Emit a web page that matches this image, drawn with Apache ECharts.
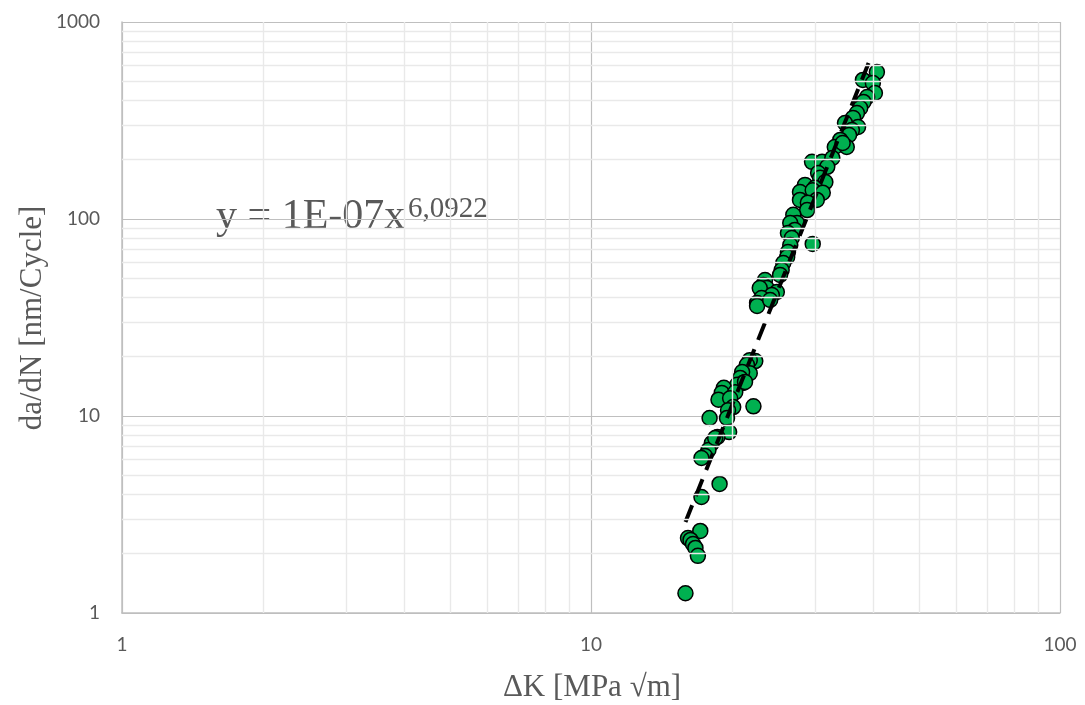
<!DOCTYPE html>
<html>
<head>
<meta charset="utf-8">
<script src="https://cdn.jsdelivr.net/npm/echarts@6/dist/echarts.min.js"></script>
<style>html,body{margin:0;padding:0;background:#fff;}#c{width:1085px;height:705px;}</style>
</head>
<body>
<div id="c"></div>
<script>
// ΔK [MPa √m]
const deltaK = [
  40.7, 38.0, 39.9, 40.3, 38.8, 38.1, 37.5, 36.9, 36.2, 34.8, 37.1, 36.0, 35.5, 34.0, 33.1, 35.1, 34.4,
  29.6, 31.1, 32.7, 31.9, 30.5, 30.8, 31.6, 28.6, 30.0, 27.9, 29.7, 31.2, 27.9, 30.3, 29.0, 28.9,
  27.0, 27.5, 26.6, 27.2, 26.3, 29.7, 26.8, 26.6, 26.3, 26.2, 25.7, 25.5, 25.3,
  23.5, 23.3, 23.7, 22.9, 24.9, 24.3, 23.1, 22.6, 22.6, 24.1,
  22.4, 21.8, 21.5, 21.8, 21.0, 20.8, 21.1, 20.5, 19.2, 19.0, 20.3, 18.7, 19.8, 20.1, 19.6, 22.2,
  17.9, 19.5, 19.7, 18.6, 18.1, 17.8, 17.5, 17.2, 18.4, 18.8, 17.2,
  17.1, 16.1, 16.3, 16.5, 16.7, 16.9, 15.9, 21.3
];
// da/dN [nm/Cycle]
const dadN = [
  557, 508, 490, 436, 416, 393, 366, 345, 326, 307, 293, 283, 267, 252, 232, 232, 243,
  195, 195, 204, 184, 171, 162, 154, 149, 144, 137, 140, 136, 125, 125, 121, 111,
  105, 95.4, 95.4, 88.0, 84.9, 74.7, 80.1, 73.8, 68.0, 64.1, 59.8, 55.1, 52.0,
  49.0, 46.2, 44.6, 44.6, 42.6, 41.1, 39.7, 37.5, 36.2, 38.8,
  19.0, 19.2, 18.2, 16.5, 16.7, 15.6, 14.7, 14.4, 13.9, 13.1, 13.2, 12.1, 12.3, 11.1, 10.7, 11.2,
  9.77, 9.77, 8.29, 7.82, 7.29, 6.72, 6.26, 6.12, 7.73, 4.52, 3.88,
  2.61, 2.40, 2.35, 2.24, 2.14, 1.95, 1.26, 14.9
];
// power trendline end points
const trendK = [15.9, 39.7];
const trendR = [2.9, 680];
const xTickLabels = ['1', '10', '100'];
const yTickLabels = ['1', '10', '100', '1000'];
const equationText = 'y = 1E-07x';
const equationExp = '6,0922';

const minorX = [];
[1, 10].forEach(d => { for (let k = 2; k <= 9; k++) minorX.push(k * d); });
const minorY = [];
[1, 10, 100].forEach(d => { for (let k = 2; k <= 9; k++) minorY.push(k * d); });

const pts = deltaK.map((k, i) => [k, dadN[i]]);
const trend = trendK.map((k, i) => [k, trendR[i]]);

const chart = echarts.init(document.getElementById('c'), null, {renderer: 'canvas'});
const labelStyle = {color: '#595959', fontSize: 19, fontFamily: 'Lato'};
chart.setOption({
  animation: false,
  backgroundColor: '#fff',
  grid: {left: 122, right: 25, top: 22, bottom: 92},
  xAxis: {
    type: 'log', min: 1, max: 100, logBase: 10,
    axisLine: {show: true, lineStyle: {color: '#bfbfbf', width: 1.5}},
    axisTick: {show: false},
    axisLabel: Object.assign({margin: 22, formatter: v => xTickLabels[Math.round(Math.log10(v))]}, labelStyle),
    splitLine: {show: true, lineStyle: {color: '#bfbfbf', width: 1.2}}
  },
  yAxis: {
    type: 'log', min: 1, max: 1000, logBase: 10,
    axisLine: {show: true, lineStyle: {color: '#bfbfbf', width: 1.5}},
    axisTick: {show: false},
    axisLabel: Object.assign({margin: 22, formatter: v => yTickLabels[Math.round(Math.log10(v))]}, labelStyle),
    splitLine: {show: true, lineStyle: {color: '#bfbfbf', width: 1.2}}
  },
  series: [
    {
      type: 'scatter', data: [], z: -1, silent: true,
      markLine: {
        silent: true, symbol: 'none', animation: false,
        label: {show: false},
        lineStyle: {color: '#e9e9e9', type: 'solid', width: 1.4},
        data: minorX.map(v => ({xAxis: v})).concat(minorY.map(v => ({yAxis: v})))
      }
    },
    {
      type: 'scatter', data: pts, symbol: 'circle', symbolSize: 15, z: 3,
      itemStyle: {color: '#00B050', borderColor: '#000', borderWidth: 1.5, opacity: 1}
    },
    {
      type: 'line', data: trend, symbol: 'none', z: 4, silent: true,
      lineStyle: {color: '#000', width: 4, type: [18, 10], cap: 'butt'}
    }
  ],
  graphic: [
    {type: 'text', x: 216, y: 217, style: {text: equationText, font: '42px "Liberation Serif"', fill: '#595959', verticalAlign: 'middle', align: 'left'}},
    {type: 'text', x: 408, y: 209, style: {text: equationExp, font: '29px "Liberation Serif"', fill: '#595959', verticalAlign: 'middle', align: 'left'}},
    {type: 'text', x: 592, y: 688, style: {text: 'ΔK [MPa √m]', font: '31px "Liberation Serif"', fill: '#595959', verticalAlign: 'middle', align: 'center'}},
    {type: 'text', x: 33, y: 318, rotation: Math.PI / 2, style: {text: 'da/dN [nm/Cycle]', font: '31px "Liberation Serif"', fill: '#595959', verticalAlign: 'middle', align: 'center'}}
  ]
});
</script>
</body>
</html>
